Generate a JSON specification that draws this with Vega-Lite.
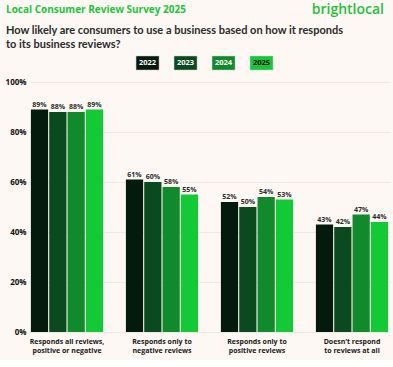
{
  "$schema": "https://vega.github.io/schema/vega-lite/v6.json",
  "background": "#fdf8f3",
  "padding": {"left": 5, "top": 3, "right": 4, "bottom": 6},
  "config": {
    "font": "Open Sans",
    "view": {"stroke": null},
    "title": {"font": "Open Sans"}
  },
  "resolve": {"scale": {"color": "independent", "x": "independent"}},
  "datasets": {
    "header": [
      {"side": "L", "label": "Local Consumer Review Survey 2025"},
      {"side": "R", "label": "brightlocal"}
    ],
    "years": [
      {"year": 2022}, {"year": 2023}, {"year": 2024}, {"year": 2025}
    ],
    "survey": [
      {"category": "Responds all reviews,|positive or negative", "year": "2022", "value": 0.89},
      {"category": "Responds all reviews,|positive or negative", "year": "2023", "value": 0.88},
      {"category": "Responds all reviews,|positive or negative", "year": "2024", "value": 0.88},
      {"category": "Responds all reviews,|positive or negative", "year": "2025", "value": 0.89},
      {"category": "Responds only to|negative  reviews", "year": "2022", "value": 0.61},
      {"category": "Responds only to|negative  reviews", "year": "2023", "value": 0.60},
      {"category": "Responds only to|negative  reviews", "year": "2024", "value": 0.58},
      {"category": "Responds only to|negative  reviews", "year": "2025", "value": 0.55},
      {"category": "Responds only to|positive  reviews", "year": "2022", "value": 0.52},
      {"category": "Responds only to|positive  reviews", "year": "2023", "value": 0.50},
      {"category": "Responds only to|positive  reviews", "year": "2024", "value": 0.54},
      {"category": "Responds only to|positive  reviews", "year": "2025", "value": 0.53},
      {"category": "Doesn’t respond|to reviews at all", "year": "2022", "value": 0.43},
      {"category": "Doesn’t respond|to reviews at all", "year": "2023", "value": 0.42},
      {"category": "Doesn’t respond|to reviews at all", "year": "2024", "value": 0.47},
      {"category": "Doesn’t respond|to reviews at all", "year": "2025", "value": 0.44}
    ]
  },
  "spacing": 7,
  "vconcat": [
    {
      "width": 355,
      "height": 14,
      "data": {"name": "header"},
      "layer": [
        {
          "transform": [{"filter": "datum.side == 'L'"}],
          "mark": {"type": "text", "align": "left", "baseline": "middle", "dx": -23, "fontSize": 10, "fontWeight": "bold", "color": "#22c63c"},
          "encoding": {
            "x": {"field": "side", "type": "nominal", "scale": {"type": "point", "domain": ["L", "R"], "padding": 0}, "axis": null},
            "text": {"field": "label"}
          }
        },
        {
          "transform": [{"filter": "datum.side == 'R'"}],
          "mark": {"type": "text", "align": "right", "baseline": "middle", "fontSize": 14, "fontWeight": 600, "color": "#1dc23b"},
          "encoding": {
            "x": {"field": "side", "type": "nominal", "scale": {"type": "point", "domain": ["L", "R"], "padding": 0}, "axis": null},
            "text": {"field": "label"}
          }
        }
      ]
    },
    {
      "width": 353,
      "height": 14,
      "title": {
        "text": ["How likely are consumers to use a business based on how it responds", "to its business reviews?"],
        "anchor": "start",
        "dx": -23,
        "font": "Lato",
        "fontSize": 11,
        "fontWeight": "bold",
        "color": "#2b2b2b",
        "lineHeight": 14,
        "offset": 6
      },
      "data": {"name": "years"},
      "encoding": {
        "x": {"field": "year", "type": "quantitative", "scale": {"domain": [2018.88, 2028.17], "zero": false, "nice": false}, "axis": null}
      },
      "layer": [
        {
          "mark": {"type": "rect", "width": 23, "stroke": "#c9c9c9", "strokeWidth": 0.5},
          "encoding": {
            "color": {"field": "year", "type": "ordinal", "scale": {"domain": [2022, 2023, 2024, 2025], "range": ["#041a0c", "#0a4a1e", "#108a2b", "#14c936"]}, "legend": null}
          }
        },
        {
          "mark": {"type": "text", "baseline": "middle", "fontSize": 7.5, "fontWeight": "bold"},
          "encoding": {
            "text": {"field": "year", "type": "nominal"},
            "color": {"condition": {"test": "datum.year == 2025", "value": "#000000"}, "value": "#ffffff"}
          }
        }
      ]
    },
    {
      "width": 361,
      "height": 250,
      "data": {"name": "survey"},
      "encoding": {
        "x": {
          "field": "category", "type": "nominal", "sort": null,
          "scale": {"paddingInner": 0.24, "paddingOuter": 0.02},
          "axis": {"title": null, "labelAngle": 0, "ticks": false, "domain": false, "labelExpr": "split(datum.value, '|')", "labelFontSize": 7, "labelFontWeight": "bold", "labelColor": "#1a1a1a", "labelPadding": 5, "labelLineHeight": 9.5}
        },
        "xOffset": {"field": "year", "type": "nominal", "scale": {"paddingInner": 0.06}},
        "y": {
          "field": "value", "type": "quantitative",
          "scale": {"domain": [0, 1]},
          "axis": {"title": null, "values": [0, 0.2, 0.4, 0.6, 0.8, 1], "format": ".0%", "ticks": false, "domain": false, "labelFontSize": 8, "labelFontWeight": "bold", "labelColor": "#111111", "labelPadding": 3, "gridColor": "#eee8e1"}
        }
      },
      "layer": [
        {
          "mark": {"type": "bar"},
          "encoding": {
            "color": {"field": "year", "type": "nominal", "scale": {"domain": ["2022", "2023", "2024", "2025"], "range": ["#041a0c", "#0a4a1e", "#108a2b", "#14c936"]}, "legend": null}
          }
        },
        {
          "mark": {"type": "text", "baseline": "bottom", "dy": -2, "fontSize": 7, "fontWeight": "bold", "color": "#2b2b2b"},
          "encoding": {
            "text": {"field": "value", "type": "quantitative", "format": ".0%"}
          }
        }
      ]
    }
  ]
}
